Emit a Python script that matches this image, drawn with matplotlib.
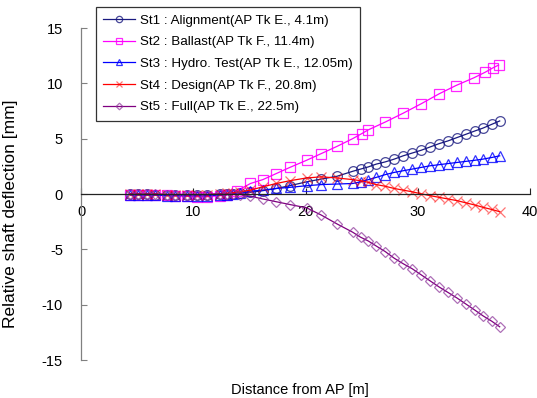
import matplotlib.pyplot as plt
import numpy as np

plt.rcParams['font.family'] = ['Liberation Sans', 'DejaVu Sans']
plt.rcParams['axes.unicode_minus'] = False

# shaft stations [m]
x = [4.4, 5.1, 5.9, 6.6, 7.7, 8.4, 9.4, 10.3, 11.2, 12.4, 13.0, 13.5, 14.2,
     15.1, 16.2, 17.4, 18.6, 20.1, 21.4, 22.8, 24.2, 24.9, 25.6, 26.3, 27.1,
     27.9, 28.7, 29.5, 30.3, 31.1, 31.9, 32.7, 33.5, 34.3, 35.1, 35.8, 36.6, 37.3]
x2 = [4.4, 5.1, 5.9, 6.6, 7.7, 8.4, 9.4, 10.3, 11.2, 12.4, 13.0, 13.9,
      15.1, 16.2, 17.4, 18.6, 20.1, 21.4, 22.8, 24.2, 25.0, 25.6, 27.1, 28.7,
      30.3, 31.9, 33.4, 35.0, 36.0, 36.7, 37.2]

st1 = [0.0, 0.0, 0.0, -0.05, -0.05, -0.05, -0.05, -0.05, -0.05, 0.0, 0.0, 0.0, 0.05,
       0.15, 0.3, 0.5, 0.75, 1.1, 1.35, 1.6, 2.05, 2.25, 2.45, 2.7, 2.9,
       3.15, 3.45, 3.7, 3.95, 4.25, 4.55, 4.8, 5.1, 5.4, 5.7, 5.95, 6.3, 6.6]
st2 = [-0.05, -0.05, -0.1, -0.1, -0.1, -0.15, -0.2, -0.25, -0.25, -0.15, -0.1, 0.3,
       0.95, 1.3, 1.85, 2.4, 3.05, 3.65, 4.3, 5.0, 5.45, 5.8, 6.5, 7.3,
       8.15, 9.05, 9.8, 10.5, 11.0, 11.4, 11.65]
st3 = [-0.1, -0.1, -0.1, -0.1, -0.15, -0.15, -0.15, -0.15, -0.15, -0.1, -0.05, 0.0, 0.1,
       0.25, 0.35, 0.5, 0.6, 0.75, 0.85, 0.9, 0.95, 1.1, 1.3, 1.5, 1.75,
       1.95, 2.1, 2.25, 2.4, 2.55, 2.65, 2.75, 2.85, 2.95, 3.05, 3.15, 3.3, 3.45]
st4 = [0.0, 0.0, 0.0, 0.0, -0.05, -0.05, -0.05, -0.05, -0.05, 0.0, 0.05, 0.1, 0.2,
       0.35, 0.65, 0.95, 1.2, 1.45, 1.55, 1.45, 1.3, 1.2, 1.05, 0.85, 0.7,
       0.5, 0.35, 0.2, 0.02, -0.15, -0.3, -0.45, -0.6, -0.8, -1.0, -1.2, -1.4, -1.6]
st5 = [0.0, 0.0, 0.0, 0.0, -0.05, -0.05, -0.05, -0.05, -0.05, 0.0, 0.0, 0.0, -0.05,
       -0.2, -0.45, -0.7, -0.95, -1.25, -1.9, -2.7, -3.45, -3.9, -4.25, -4.7, -5.2,
       -5.8, -6.3, -6.75, -7.3, -7.85, -8.4, -8.9, -9.4, -9.95, -10.5, -11.0, -11.5, -12.0]

labels = ['St1 : Alignment(AP Tk E., 4.1m)',
          'St2 : Ballast(AP Tk F., 11.4m)',
          'St3 : Hydro. Test(AP Tk E., 12.05m)',
          'St4 : Design(AP Tk F., 20.8m)',
          'St5 : Full(AP Tk E., 22.5m)']

fig = plt.figure(figsize=(5.37, 3.98), dpi=100)
ax = fig.add_axes([81/537, 1-360/398, 449/537, 332/398])

ms = 7
ax.plot(x, st1, color='#1a1a80', lw=0.9, marker='o', ms=ms, mfc='none',
        mec=(0.1, 0.1, 0.5, 0.8), mew=0.9, label=labels[0])
ax.plot(x2, st2, color='#ff00ff', lw=0.9, marker='s', ms=ms, mfc='none',
        mec=(1, 0, 1, 0.85), mew=0.9, label=labels[1])
ax.plot(x, st3, color='#0000ff', lw=0.9, marker='^', ms=ms, mfc='none',
        mec=(0, 0, 1, 0.8), mew=0.9, label=labels[2])
ax.plot(x, st4, color='#ff0000', lw=0.9, marker='x', ms=ms, mfc='none',
        mec=(1, 0, 0, 0.55), mew=0.9, label=labels[3])
ax.plot(x, st5, color='#800080', lw=0.9, marker='D', ms=5.2, mfc='none',
        mec=(0.55, 0.2, 0.6, 0.7), mew=0.9, label=labels[4])

ax.set_xlim(0, 40)
ax.set_ylim(-15, 15)
ax.set_xticks([0, 10, 20, 30, 40])
ax.set_yticks([-15, -10, -5, 0, 5, 10, 15])
ax.spines['top'].set_visible(False)
ax.spines['right'].set_visible(False)
ax.spines['bottom'].set_position(('data', 0))
ax.spines['bottom'].set_color('#222222')
ax.spines['left'].set_color('#808080')
ax.spines['bottom'].set_linewidth(0.9)
ax.spines['left'].set_linewidth(0.9)
ax.tick_params(axis='x', direction='in', length=4, pad=8, labelsize=10.5, color='#222222')
ax.tick_params(axis='y', direction='in', length=4, pad=13, labelsize=10.5, color='#808080')

ax.set_xlabel('Distance from AP [m]', fontsize=10.5)
ax.set_ylabel('Relative shaft deflection [mm]', fontsize=12.5)
ax.xaxis.set_label_coords(0.488, -0.069)
ax.yaxis.set_label_coords(-0.14, 0.44)

leg = fig.legend(loc='upper left', bbox_to_anchor=(96/537, 1-7/398),
                 borderaxespad=0, fancybox=False, frameon=True,
                 prop={'size': 9.6},
                 handlelength=2.4, handletextpad=0.35, labelspacing=0.7,
                 borderpad=0.55, markerscale=0.65)
leg.get_frame().set_edgecolor('black')
leg.get_frame().set_linewidth(0.9)

fig.savefig('out.png', dpi=100)
